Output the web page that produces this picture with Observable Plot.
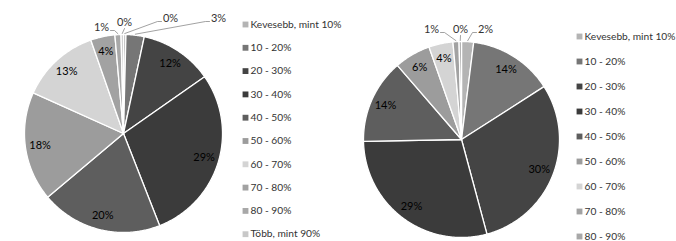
<!DOCTYPE html>
<html><head><meta charset="utf-8">
<script src="https://cdn.jsdelivr.net/npm/d3@7"></script>
<script src="https://cdn.jsdelivr.net/npm/@observablehq/plot@0.6"></script>
<style>
body{margin:0;background:#fff;}
#wrap{display:flex;width:676px;height:241px;overflow:hidden;}
#wrap svg{font-family:Lato, "Open Sans", sans-serif;overflow:visible;}
</style></head><body><div id="wrap"></div>
<script>
// ---- data ----
const categories = ["Kevesebb, mint 10%","10 - 20%","20 - 30%","30 - 40%","40 - 50%","50 - 60%","60 - 70%","70 - 80%","80 - 90%","Több, mint 90%"];
const leftValues  = [0.4, 3, 12, 29, 20, 18, 13, 4, 1, 0.4];
const rightValues = [2, 14, 30, 29, 14, 6, 4, 1, 0.4];
// ---- style ----
const grays = ["#b4b4b4","#767676","#444444","#3b3b3b","#5e5e5e","#9c9c9c","#d4d4d4","#a2a2a2","#a8a8a8","#c8c8c8"];

function pie(values, cats, L) {
  const arcs = d3.pie().sort(null).value(d => d)(values);
  const slices = [], inside = [], outside = [], leaders = [];
  arcs.forEach((a, i) => {
    const cat = cats[i];
    const pts = [{cat, x: L.cx, y: L.cy}];
    const n = Math.max(2, Math.ceil((a.endAngle - a.startAngle) / 0.01));
    for (let k = 0; k <= n; k++) {
      const t = a.startAngle + (a.endAngle - a.startAngle) * k / n;
      pts.push({cat, x: L.cx + L.r * Math.sin(t), y: L.cy - L.r * Math.cos(t)});
    }
    slices.push(...pts);
    const mid = (a.startAngle + a.endAngle) / 2;
    const label = Math.round(values[i]) + "%";
    if (L.outside[i]) {
      const [dx, dy] = L.outside[i];
      const lx = L.cx + dx, ly = L.cy + dy;
      outside.push({x: lx, y: ly, text: label});
      const ax = L.cx + (L.r + 1) * Math.sin(mid), ay = L.cy - (L.r + 1) * Math.cos(mid);
      let p;
      if (Math.abs(lx - ax) < 5) p = [[lx, ly + 6], [ax, ay]];
      else if (lx > ax) p = [[lx - 9, ly + 3], [lx - 13, ly + 3], [ax, ay]];
      else p = [[lx + 9, ly + 3], [lx + 13, ly + 3], [ax, ay]];
      p.forEach(([x, y]) => leaders.push({k: i, x, y}));
    } else {
      inside.push({x: L.cx + L.r * L.lr * Math.sin(mid), y: L.cy - L.r * L.lr * Math.cos(mid), text: label});
    }
  });
  const legend = cats.map((c, i) => ({cat: c, y: L.ly0 + i * L.lstep}));
  return Plot.plot({
    width: 338, height: 241, margin: 0,
    style: {overflow: "visible"},
    x: {domain: [0, 338], range: [0, 338], axis: null},
    y: {domain: [0, 241], range: [0, 241], axis: null},
    color: {domain: categories, range: grays},
    marks: [
      Plot.line(slices, {x: "x", y: "y", z: "cat", fill: "cat", stroke: "#ffffff", strokeWidth: 1.3, curve: "linear-closed"}),
      Plot.text(inside, {x: "x", y: "y", text: "text", fontSize: 11, fill: "#000"}),
      Plot.line(leaders, {x: "x", y: "y", z: "k", stroke: "#8a8a8a", strokeWidth: 0.8}),
      Plot.text(outside, {x: "x", y: "y", text: "text", fontSize: 11, fill: "#333"}),
      Plot.dot(legend, {x: L.lx, y: "y", symbol: "square", r: 3.3, fill: "cat"}),
      Plot.text(legend, {x: L.lx + 5, y: "y", text: "cat", textAnchor: "start", fontSize: 10.2, fill: "#333"})
    ]
  });
}

const wrap = document.getElementById("wrap");
wrap.append(pie(leftValues, categories, {
  cx: 123, cy: 133, r: 99, lr: 0.85,
  outside: {0: [47, -115], 1: [95, -115], 8: [-22, -106], 9: [1, -111]},
  lx: 245, ly0: 24, lstep: 23.3
}));
wrap.append(pie(rightValues, categories.slice(0, 9), {
  cx: 123, cy: 139, r: 98, lr: 0.85,
  outside: {0: [24, -110], 7: [-30, -110], 8: [-1, -110]},
  lx: 241, ly0: 36, lstep: 25
}));
</script></body></html>
